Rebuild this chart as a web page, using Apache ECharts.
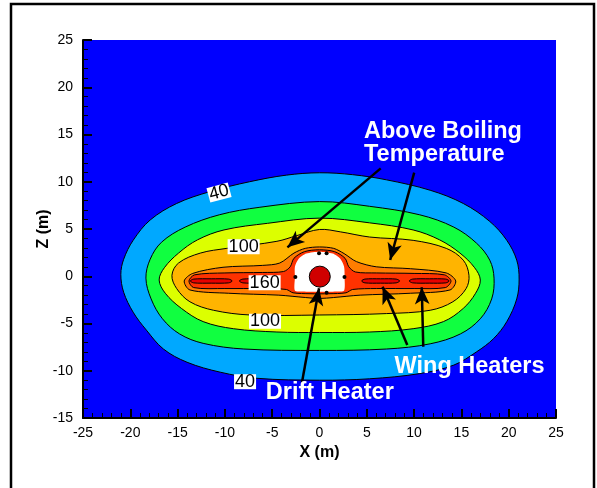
<!DOCTYPE html>
<html><head><meta charset="utf-8">
<script src="https://cdn.jsdelivr.net/npm/echarts@6/dist/echarts.min.js"></script>
<style>html,body{margin:0;padding:0;background:#fff;}#c{width:597px;height:488px;}</style>
</head><body><div id="c"></div>
<script>
// ---- data (x, z in metres) ----
const xTickMin = -25, xTickMax = 25, yTickMin = -15, yTickMax = 25, tickStep = 5;

// contour boundaries
const c40 = [[0,10.95],[3.5,10.75],[7.1,10.2],[11.7,9.1],[15.2,7.7],[18.0,5.8],[19.8,3.8],[20.85,1.7],[21.1,-0.3],[20.85,-2.4],[19.8,-4.8],[18.4,-6.6],[16.6,-8.0],[14.2,-9.4],[10.6,-10.3],[5.3,-10.85],[0,-11.0],[-6.6,-10.8],[-10.5,-10.15],[-14.0,-9.1],[-16.5,-7.7],[-18.3,-5.7],[-19.7,-3.8],[-20.7,-1.7],[-21.0,0.2],[-20.7,1.8],[-19.7,3.8],[-17.9,5.95],[-15.1,7.7],[-11.6,8.95],[-7.4,10.0],[-3.5,10.7]];
const c60 = [[0,7.9],[5.3,7.4],[10.6,6.5],[14.2,5.2],[16.6,3.5],[18.0,1.7],[18.45,-0.2],[18.2,-2.4],[17.0,-4.5],[14.9,-6.1],[11.7,-7.15],[7.1,-7.7],[0,-7.85],[-8.0,-7.7],[-12.3,-7.1],[-14.8,-6.1],[-16.6,-4.5],[-17.8,-2.4],[-18.35,-0.2],[-17.9,1.8],[-16.7,3.6],[-14.2,5.2],[-10.6,6.5],[-6.3,7.3]];
const c80 = [[0,6.15],[5.3,5.65],[9.9,4.9],[12.7,3.85],[14.85,2.45],[16.4,0.9],[17.0,-0.4],[16.5,-1.8],[15.2,-3.4],[13.1,-4.8],[9.9,-5.55],[5.3,-5.9],[0,-5.95],[-4.5,-5.9],[-9.1,-5.55],[-12.3,-4.8],[-14.6,-3.4],[-16.3,-1.8],[-16.95,-0.4],[-16.4,0.9],[-14.9,2.45],[-12.9,3.85],[-10.1,4.9],[-5.5,5.6]];
const c100 = [[0,4.95],[2.2,4.7],[5.3,4.15],[9.9,3.8],[13.4,2.95],[15.2,1.7],[15.8,0.1],[15.5,-1.3],[14.1,-2.7],[11.7,-3.6],[7.1,-3.95],[0,-4.1],[-7.3,-4.1],[-11.2,-3.6],[-13.7,-2.7],[-15.1,-1.3],[-15.6,0.1],[-14.9,1.4],[-12.6,2.45],[-9.8,2.95],[-4.5,3.7],[-2.4,4.3]];
const c120 = [[0,3.1],[1.5,2.95],[2.6,2.4],[3.9,1.55],[6.0,1.0],[9.6,0.8],[13.4,0.35],[14.4,-0.5],[13.8,-1.45],[9.6,-1.8],[4.3,-2.0],[1.5,-2.25],[0,-2.35],[-1.5,-2.25],[-4.3,-2.0],[-9.6,-1.8],[-13.7,-1.45],[-14.3,-0.5],[-13.4,0.3],[-10.2,0.95],[-6.0,1.15],[-4.2,1.4],[-2.7,2.45],[-1.5,2.95]];
const c140 = [[0,2.8],[1.6,2.6],[2.7,1.9],[3.1,1.0],[3.8,0.45],[6.0,0.35],[10.0,0.3],[13.2,0.15],[13.9,-0.5],[13.3,-1.2],[10.0,-1.3],[6.0,-1.3],[3.5,-1.4],[2.8,-1.75],[1.0,-1.85],[-1.0,-1.85],[-2.8,-1.75],[-3.5,-1.4],[-6.0,-1.3],[-10.0,-1.3],[-13.3,-1.2],[-13.8,-0.5],[-13.2,0.15],[-10.0,0.35],[-6.0,0.4],[-3.8,0.5],[-3.1,1.0],[-2.7,1.9],[-1.6,2.6]];
const boilRegion = [[0,2.6],[1.4,2.4],[2.2,1.85],[2.6,1.0],[2.65,-0.1],[2.6,-1.5],[1.8,-1.62],[0,-1.65],[-1.8,-1.62],[-2.6,-1.5],[-2.6,-0.1],[-2.6,1.0],[-2.2,1.85],[-1.4,2.4]];
const wing1 = [[-13.66,-0.5],[-13.3,-0.3],[-11.45,-0.27],[-9.6,-0.3],[-9.23,-0.5],[-9.6,-0.7],[-11.45,-0.73],[-13.3,-0.7]];
const wing2 = [[-8.48,-0.5],[-8.1,-0.3],[-6.45,-0.27],[-4.8,-0.3],[-4.45,-0.5],[-4.8,-0.7],[-6.45,-0.73],[-8.1,-0.7]];
const wing3 = [[4.45,-0.5],[4.8,-0.3],[6.45,-0.27],[8.1,-0.3],[8.48,-0.5],[8.1,-0.7],[6.45,-0.73],[4.8,-0.7]];
const wing4 = [[9.48,-0.5],[9.85,-0.3],[11.6,-0.27],[13.35,-0.3],[13.71,-0.5],[13.35,-0.7],[11.6,-0.73],[9.85,-0.7]];

const driftHeater = [[0.03,-0.04]];
const nodeDots = [[-0.05,2.43],[0.75,2.43],[-2.55,-0.07],[2.64,-0.07],[0.75,-1.74]];

const contourLabelText = ['40','100','160','100','40'];
const contourLabelX = [-10.62,-8.02,-5.8,-5.76,-7.87];
const contourLabelZ = [8.86,3.13,-0.68,-4.77,-11.16];
const contourLabelRot = [15,0,0,0,0];

const noteText = ['Above Boiling\nTemperature','Wing Heaters','Drift Heater'];
const noteX = [4.65,7.88,-5.73];
const noteZ = [14.15,-9.57,-12.35];

const arrowX1 = [6.47,10.01,-1.86,9.28,10.97];
const arrowZ1 = [11.42,10.96,-11.27,-7.28,-7.46];
const arrowX2 = [-3.39,7.47,-0.05,6.67,10.81];
const arrowZ2 = [3.06,1.72,-1.28,-1.11,-1.17];

// ---- styling ----
const F = 'Liberation Sans, Arial, Helvetica, sans-serif';
const layers = [
  {pts:c40, fill:'#00A8FF', stroke:'#000', smooth:0.35},
  {pts:c60, fill:'#10FF40', stroke:'#000', smooth:0.35},
  {pts:c80, fill:'#DCFF00', stroke:'#000', smooth:0.35},
  {pts:c100, fill:'#FFB400', stroke:'#000', smooth:0.35},
  {pts:c120, fill:'#FF7D00', stroke:'#000', smooth:0.3},
  {pts:c140, fill:'#FF3200', stroke:'#000', smooth:0.3},
  {pts:boilRegion, fill:'#FFFFFF', stroke:null, smooth:0.25},
  {pts:wing1, fill:'#E80000', stroke:'#000', smooth:0.3},
  {pts:wing2, fill:'#E80000', stroke:'#000', smooth:0.3},
  {pts:wing3, fill:'#E80000', stroke:'#000', smooth:0.3},
  {pts:wing4, fill:'#E80000', stroke:'#000', smooth:0.3}
];

const axisCommon = {
  type:'value', interval:tickStep, nameLocation:'middle', nameMoveOverlap:false,
  nameTextStyle:{fontSize:16, fontWeight:'bold', color:'#000', fontFamily:F},
  axisLine:{show:true, onZero:false, lineStyle:{color:'#000', width:2}},
  axisTick:{show:true, inside:true, length:9, lineStyle:{color:'#000', width:2}},
  minorTick:{show:true, splitNumber:5, length:5, lineStyle:{color:'#000', width:1}},
  splitLine:{show:false}, minorSplitLine:{show:false}
};

const chart = echarts.init(document.getElementById('c'), null, {renderer:'canvas'});
chart.setOption({
  animation:false,
  backgroundColor:'#fff',
  grid:{left:83, top:40, right:41, bottom:70, show:true, backgroundColor:'#0000FF', borderWidth:0},
  graphic:[{type:'rect', shape:{x:11, y:4, width:583, height:500}, style:{fill:'none', stroke:'#000', lineWidth:2.5}, silent:true, z:100}],
  xAxis:Object.assign({}, axisCommon, {min:xTickMin, max:xTickMax, name:'X (m)', nameGap:27,
    axisLabel:{fontSize:14, color:'#000', margin:8, fontFamily:F}}),
  yAxis:Object.assign({}, axisCommon, {min:yTickMin, max:yTickMax, name:'Z (m)', nameGap:31,
    axisLabel:{fontSize:14, color:'#000', margin:10, fontFamily:F}}),
  series:[
    {
      type:'custom', silent:true, clip:true,
      data:layers.map((l,i)=>[i]),
      encode:{x:-1, y:-1},
      renderItem:function(params, api){
        const l = layers[params.dataIndex];
        const pts = l.pts.map(p=>api.coord(p));
        return {type:'polygon', shape:{points:pts, smooth:l.smooth},
          style:{fill:l.fill, stroke:l.stroke || 'none', lineWidth:l.stroke?1:0}};
      }
    },
    {
      type:'scatter', silent:true, data:driftHeater, symbol:'circle', symbolSize:21,
      itemStyle:{color:'#D00000', borderColor:'#000', borderWidth:1, opacity:1}
    },
    {
      type:'scatter', silent:true, data:nodeDots, symbol:'circle', symbolSize:4,
      itemStyle:{color:'#000', opacity:1}
    },
    {
      type:'scatter', silent:true, symbol:'rect', symbolSize:1,
      itemStyle:{color:'rgba(0,0,0,0)', opacity:1},
      data:contourLabelText.map((t,i)=>({value:[contourLabelX[i], contourLabelZ[i]], name:t,
        label:{rotate:contourLabelRot[i]}})),
      label:{show:true, position:'inside', formatter:'{b}', color:'#000', fontSize:18, fontFamily:F,
        backgroundColor:'#fff', padding:[0,1,0,1], lineHeight:15},
      z:5
    },
    {
      type:'scatter', silent:true, symbol:'rect', symbolSize:1,
      itemStyle:{color:'rgba(0,0,0,0)', opacity:1},
      data:noteText.map((t,i)=>({value:[noteX[i], noteZ[i]], name:t})),
      label:{show:true, position:'right', distance:0, formatter:'{b}', color:'#fff', fontSize:23.5,
        fontWeight:'bold', fontFamily:F, lineHeight:23, align:'left'},
      markLine:{
        silent:true, symbol:['none','arrow'], symbolSize:[11,17],
        label:{show:false},
        lineStyle:{color:'#000', width:2.5, type:'solid', opacity:1},
        emphasis:{disabled:true},
        data:arrowX1.map((x,i)=>[{coord:[x, arrowZ1[i]]},{coord:[arrowX2[i], arrowZ2[i]]}])
      },
      z:6
    }
  ]
});
</script></body></html>
